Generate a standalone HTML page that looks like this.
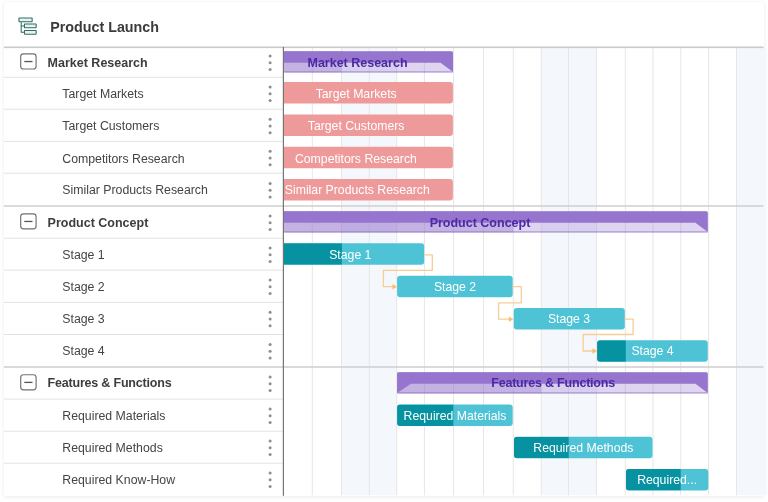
<!DOCTYPE html>
<html><head><meta charset="utf-8"><title>Product Launch</title>
<style>
html,body{margin:0;padding:0;background:#fff;}
body{width:768px;height:502px;position:relative;overflow:hidden;font-family:"Liberation Sans",sans-serif;}
.card{position:absolute;left:3.6px;top:2px;width:760px;height:493.7px;background:#fff;border-radius:1.5px;box-shadow:0 1px 5px rgba(0,0,0,0.07),0 0 1px rgba(0,0,0,0.10);}
.abs{position:absolute;}
.title{position:absolute;left:50.2px;font-size:14.3px;font-weight:bold;color:#3b3b3b;line-height:20px;white-space:nowrap;}
.lbl{position:absolute;font-size:12.3px;color:#444;line-height:16px;white-space:nowrap;left:62.3px;}
.grp{position:absolute;font-size:12.5px;font-weight:bold;color:#3d3d3d;line-height:16px;white-space:nowrap;left:47.6px;}
.bt{position:absolute;font-size:12.25px;color:#fff;line-height:16px;white-space:nowrap;transform:translateX(-50%);}
.st{position:absolute;font-size:12.5px;font-weight:bold;color:#4b2aa3;line-height:16px;white-space:nowrap;transform:translateX(-50%);}
</style></head><body>
<div class="card"></div>

<svg class="abs" style="left:0;top:0" width="768" height="502" viewBox="0 0 768 502">
<rect x="341.5" y="48" width="55.20" height="447.3" fill="#f4f7fb"/>
<rect x="541.25" y="48" width="55.15" height="447.3" fill="#f4f7fb"/>
<rect x="736.5" y="48" width="30.00" height="447.3" fill="#f4f7fb"/>
<rect x="311.80" y="48" width="1" height="447.3" fill="#e6e6e7"/>
<rect x="341.00" y="48" width="1" height="447.3" fill="#e6e6e7"/>
<rect x="368.70" y="48" width="1" height="447.3" fill="#e6e6e7"/>
<rect x="396.20" y="48" width="1" height="447.3" fill="#e6e6e7"/>
<rect x="423.90" y="48" width="1" height="447.3" fill="#e6e6e7"/>
<rect x="453.00" y="48" width="1" height="447.3" fill="#e6e6e7"/>
<rect x="483.00" y="48" width="1" height="447.3" fill="#e6e6e7"/>
<rect x="512.80" y="48" width="1" height="447.3" fill="#e6e6e7"/>
<rect x="540.75" y="48" width="1" height="447.3" fill="#e6e6e7"/>
<rect x="568.00" y="48" width="1" height="447.3" fill="#e6e6e7"/>
<rect x="595.90" y="48" width="1" height="447.3" fill="#e6e6e7"/>
<rect x="624.80" y="48" width="1" height="447.3" fill="#e6e6e7"/>
<rect x="652.50" y="48" width="1" height="447.3" fill="#e6e6e7"/>
<rect x="680.30" y="48" width="1" height="447.3" fill="#e6e6e7"/>
<rect x="708.10" y="48" width="1" height="447.3" fill="#e6e6e7"/>
<rect x="736.00" y="48" width="1" height="447.3" fill="#e6e6e7"/>
<rect x="4" y="76.80" width="279" height="1" fill="#e3e3e3"/>
<rect x="4" y="108.70" width="279" height="1" fill="#e3e3e3"/>
<rect x="4" y="140.90" width="279" height="1" fill="#e3e3e3"/>
<rect x="4" y="172.70" width="279" height="1" fill="#e3e3e3"/>
<rect x="4" y="205.20" width="759.6" height="1.6" fill="#d1d1d1"/>
<rect x="4" y="237.70" width="279" height="1" fill="#e3e3e3"/>
<rect x="4" y="269.60" width="279" height="1" fill="#e3e3e3"/>
<rect x="4" y="301.90" width="279" height="1" fill="#e3e3e3"/>
<rect x="4" y="334.00" width="279" height="1" fill="#e3e3e3"/>
<rect x="4" y="366.20" width="759.6" height="1.6" fill="#d1d1d1"/>
<rect x="4" y="398.60" width="279" height="1" fill="#e3e3e3"/>
<rect x="4" y="430.70" width="279" height="1" fill="#e3e3e3"/>
<rect x="4" y="462.70" width="279" height="1" fill="#e3e3e3"/>
<rect x="4" y="46.5" width="759.6" height="1.6" fill="#c9c9c9"/>
<rect x="282.8" y="47" width="1.15" height="448.8" fill="#707070"/>
<g fill="#e6f3f1" stroke="#2f6b64" stroke-width="1.05" stroke-linejoin="miter">
<rect x="18.95" y="17.95" width="13.2" height="3.8" rx="0.3"/>
<rect x="24.45" y="24.05" width="11.7" height="3.7" rx="0.3"/>
<rect x="24.45" y="30.45" width="11.7" height="3.7" rx="0.3"/>
<path d="M21.2 22.2V32.3H24M21.2 25.9H24" fill="none"/>
</g>
<rect x="20.7" y="53.90" width="15.4" height="15.1" rx="2.8" fill="#fff" stroke="#707070" stroke-width="1.15"/>
<rect x="24.3" y="60.90" width="8.2" height="1.3" fill="#555"/>
<circle cx="270.1" cy="56.05" r="1.5" fill="#8e8e8e"/>
<circle cx="270.1" cy="62.80" r="1.5" fill="#8e8e8e"/>
<circle cx="270.1" cy="69.55" r="1.5" fill="#8e8e8e"/>
<circle cx="270.1" cy="87.10" r="1.5" fill="#8e8e8e"/>
<circle cx="270.1" cy="93.85" r="1.5" fill="#8e8e8e"/>
<circle cx="270.1" cy="100.60" r="1.5" fill="#8e8e8e"/>
<circle cx="270.1" cy="119.15" r="1.5" fill="#8e8e8e"/>
<circle cx="270.1" cy="125.90" r="1.5" fill="#8e8e8e"/>
<circle cx="270.1" cy="132.65" r="1.5" fill="#8e8e8e"/>
<circle cx="270.1" cy="151.15" r="1.5" fill="#8e8e8e"/>
<circle cx="270.1" cy="157.90" r="1.5" fill="#8e8e8e"/>
<circle cx="270.1" cy="164.65" r="1.5" fill="#8e8e8e"/>
<circle cx="270.1" cy="183.45" r="1.5" fill="#8e8e8e"/>
<circle cx="270.1" cy="190.20" r="1.5" fill="#8e8e8e"/>
<circle cx="270.1" cy="196.95" r="1.5" fill="#8e8e8e"/>
<rect x="20.7" y="213.80" width="15.4" height="15.1" rx="2.8" fill="#fff" stroke="#707070" stroke-width="1.15"/>
<rect x="24.3" y="220.80" width="8.2" height="1.3" fill="#555"/>
<circle cx="270.1" cy="215.95" r="1.5" fill="#8e8e8e"/>
<circle cx="270.1" cy="222.70" r="1.5" fill="#8e8e8e"/>
<circle cx="270.1" cy="229.45" r="1.5" fill="#8e8e8e"/>
<circle cx="270.1" cy="248.00" r="1.5" fill="#8e8e8e"/>
<circle cx="270.1" cy="254.75" r="1.5" fill="#8e8e8e"/>
<circle cx="270.1" cy="261.50" r="1.5" fill="#8e8e8e"/>
<circle cx="270.1" cy="280.10" r="1.5" fill="#8e8e8e"/>
<circle cx="270.1" cy="286.85" r="1.5" fill="#8e8e8e"/>
<circle cx="270.1" cy="293.60" r="1.5" fill="#8e8e8e"/>
<circle cx="270.1" cy="312.30" r="1.5" fill="#8e8e8e"/>
<circle cx="270.1" cy="319.05" r="1.5" fill="#8e8e8e"/>
<circle cx="270.1" cy="325.80" r="1.5" fill="#8e8e8e"/>
<circle cx="270.1" cy="344.60" r="1.5" fill="#8e8e8e"/>
<circle cx="270.1" cy="351.35" r="1.5" fill="#8e8e8e"/>
<circle cx="270.1" cy="358.10" r="1.5" fill="#8e8e8e"/>
<rect x="20.7" y="374.75" width="15.4" height="15.1" rx="2.8" fill="#fff" stroke="#707070" stroke-width="1.15"/>
<rect x="24.3" y="381.75" width="8.2" height="1.3" fill="#555"/>
<circle cx="270.1" cy="376.90" r="1.5" fill="#8e8e8e"/>
<circle cx="270.1" cy="383.65" r="1.5" fill="#8e8e8e"/>
<circle cx="270.1" cy="390.40" r="1.5" fill="#8e8e8e"/>
<circle cx="270.1" cy="409.00" r="1.5" fill="#8e8e8e"/>
<circle cx="270.1" cy="415.75" r="1.5" fill="#8e8e8e"/>
<circle cx="270.1" cy="422.50" r="1.5" fill="#8e8e8e"/>
<circle cx="270.1" cy="441.05" r="1.5" fill="#8e8e8e"/>
<circle cx="270.1" cy="447.80" r="1.5" fill="#8e8e8e"/>
<circle cx="270.1" cy="454.55" r="1.5" fill="#8e8e8e"/>
<circle cx="270.1" cy="472.95" r="1.5" fill="#8e8e8e"/>
<circle cx="270.1" cy="479.70" r="1.5" fill="#8e8e8e"/>
<circle cx="270.1" cy="486.45" r="1.5" fill="#8e8e8e"/>
<g transform="translate(284,51.2)"><rect x="0" y="0" width="169" height="21.2" rx="2" fill="#9575cd" fill-opacity="0.3"/><rect x="0" y="0" width="57.5" height="21.2" fill="#9575cd" fill-opacity="0.36"/><rect x="0" y="20.3" width="169" height="0.9" fill="#7e63b8" fill-opacity="0.75"/><path d="M0 0H167.5Q169 0 169 1.5V20.7L156.6 11.6H0Z" fill="#9575cd"/></g>
<g transform="translate(284,211.2)"><rect x="0" y="0" width="423.8" height="21.2" rx="2" fill="#9575cd" fill-opacity="0.3"/><rect x="0" y="0" width="229.3" height="21.2" fill="#9575cd" fill-opacity="0.36"/><rect x="0" y="20.3" width="423.8" height="0.9" fill="#7e63b8" fill-opacity="0.75"/><path d="M0 0H422.3Q423.8 0 423.8 1.5V20.7L411.40000000000003 11.6H0Z" fill="#9575cd"/></g>
<g transform="translate(397.1,372.2)"><rect x="0" y="0" width="310.7" height="21.2" rx="2" fill="#9575cd" fill-opacity="0.3"/><rect x="0" y="0" width="144.15" height="21.2" fill="#9575cd" fill-opacity="0.36"/><rect x="0" y="20.3" width="310.7" height="0.9" fill="#7e63b8" fill-opacity="0.75"/><path d="M1.5 0H309.2Q310.7 0 310.7 1.5V20.7L298.3 11.6H13.9L0 20.7V1.5Q0 0 1.5 0Z" fill="#9575cd"/></g>
<path d="M284 82.1H449.9Q452.9 82.1 452.9 85.1V100.6Q452.9 103.6 449.9 103.6H284Z" fill="#ef9a9a"/>
<path d="M284 114.4H449.9Q452.9 114.4 452.9 117.4V132.9Q452.9 135.9 449.9 135.9H284Z" fill="#ef9a9a"/>
<path d="M284 146.8H449.9Q452.9 146.8 452.9 149.8V165.3Q452.9 168.3 449.9 168.3H284Z" fill="#ef9a9a"/>
<path d="M284 179.1H449.9Q452.9 179.1 452.9 182.1V197.6Q452.9 200.6 449.9 200.6H284Z" fill="#ef9a9a"/>
<clipPath id="c1"><path d="M284 243.2H421.2Q424.2 243.2 424.2 246.2V261.7Q424.2 264.7 421.2 264.7H284Z"/></clipPath>
<path d="M284 243.2H421.2Q424.2 243.2 424.2 246.2V261.7Q424.2 264.7 421.2 264.7H284Z" fill="#4fc3d6"/><rect clip-path="url(#c1)" x="284" y="243.2" width="57.90" height="21.5" fill="#0792a1"/>
<path d="M400.1 275.7H509.70000000000005Q512.7 275.7 512.7 278.7V294.2Q512.7 297.2 509.70000000000005 297.2H400.1Q397.1 297.2 397.1 294.2V278.7Q397.1 275.7 400.1 275.7Z" fill="#4fc3d6"/>
<path d="M516.75 308.1H621.8Q624.8 308.1 624.8 311.1V326.6Q624.8 329.6 621.8 329.6H516.75Q513.75 329.6 513.75 326.6V311.1Q513.75 308.1 516.75 308.1Z" fill="#4fc3d6"/>
<clipPath id="c2"><path d="M600.1 340.3H704.8Q707.8 340.3 707.8 343.3V358.8Q707.8 361.8 704.8 361.8H600.1Q597.1 361.8 597.1 358.8V343.3Q597.1 340.3 600.1 340.3Z"/></clipPath>
<path d="M600.1 340.3H704.8Q707.8 340.3 707.8 343.3V358.8Q707.8 361.8 704.8 361.8H600.1Q597.1 361.8 597.1 358.8V343.3Q597.1 340.3 600.1 340.3Z" fill="#4fc3d6"/><rect clip-path="url(#c2)" x="597.1" y="340.3" width="28.70" height="21.5" fill="#0792a1"/>
<clipPath id="c3"><path d="M400.1 404.5H509.70000000000005Q512.7 404.5 512.7 407.5V423.0Q512.7 426.0 509.70000000000005 426.0H400.1Q397.1 426.0 397.1 423.0V407.5Q397.1 404.5 400.1 404.5Z"/></clipPath>
<path d="M400.1 404.5H509.70000000000005Q512.7 404.5 512.7 407.5V423.0Q512.7 426.0 509.70000000000005 426.0H400.1Q397.1 426.0 397.1 423.0V407.5Q397.1 404.5 400.1 404.5Z" fill="#4fc3d6"/><rect clip-path="url(#c3)" x="397.1" y="404.5" width="56.20" height="21.5" fill="#0792a1"/>
<clipPath id="c4"><path d="M517 436.8H649.5Q652.5 436.8 652.5 439.8V455.3Q652.5 458.3 649.5 458.3H517Q514 458.3 514 455.3V439.8Q514 436.8 517 436.8Z"/></clipPath>
<path d="M517 436.8H649.5Q652.5 436.8 652.5 439.8V455.3Q652.5 458.3 649.5 458.3H517Q514 458.3 514 455.3V439.8Q514 436.8 517 436.8Z" fill="#4fc3d6"/><rect clip-path="url(#c4)" x="514" y="436.8" width="54.70" height="21.5" fill="#0792a1"/>
<clipPath id="c5"><path d="M629 468.9H705.3Q708.3 468.9 708.3 471.9V487.4Q708.3 490.4 705.3 490.4H629Q626 490.4 626 487.4V471.9Q626 468.9 629 468.9Z"/></clipPath>
<path d="M629 468.9H705.3Q708.3 468.9 708.3 471.9V487.4Q708.3 490.4 705.3 490.4H629Q626 490.4 626 487.4V471.9Q626 468.9 629 468.9Z" fill="#4fc3d6"/><rect clip-path="url(#c5)" x="626" y="468.9" width="54.70" height="21.5" fill="#0792a1"/>
<path d="M424.2 254.8H432.3V270.4H383.4V286.7H394.1" fill="none" stroke="#f8cd95" stroke-width="1.3" stroke-linejoin="round"/><path d="M396.8 286.7L392.5 284.0V289.4Z" fill="#f6bd6a"/>
<path d="M512.7 286.7H521.3V302.8H498.6V319.2H510.5" fill="none" stroke="#f8cd95" stroke-width="1.3" stroke-linejoin="round"/><path d="M513.2 319.2L508.9 316.5V321.9Z" fill="#f6bd6a"/>
<path d="M624.8 319.2H633.1V334.5H583.2V351H594.1" fill="none" stroke="#f8cd95" stroke-width="1.3" stroke-linejoin="round"/><path d="M596.8000000000001 351L592.5 348.3V353.7Z" fill="#f6bd6a"/>
</svg>
<div class="title" style="top:17.05px">Product Launch</div>
<div class="grp" style="top:54.67px">Market Research</div>
<div class="lbl" style="top:85.74px">Target Markets</div>
<div class="lbl" style="top:117.74px">Target Customers</div>
<div class="lbl" style="top:150.74px">Competitors Research</div>
<div class="lbl" style="top:181.74px">Similar Products Research</div>
<div class="grp" style="top:214.67px">Product Concept</div>
<div class="lbl" style="top:246.74px">Stage 1</div>
<div class="lbl" style="top:278.74px">Stage 2</div>
<div class="lbl" style="top:310.74px">Stage 3</div>
<div class="lbl" style="top:342.74px">Stage 4</div>
<div class="grp" style="top:375.17px"><span style="letter-spacing:-0.2px">Features &amp; Functions</span></div>
<div class="lbl" style="top:407.74px">Required Materials</div>
<div class="lbl" style="top:439.74px">Required Methods</div>
<div class="lbl" style="top:471.74px">Required Know-How</div>
<div class="st" style="left:357.5px;top:54.67px">Market Research</div>
<div class="st" style="left:480px;top:214.67px">Product Concept</div>
<div class="st" style="left:553.1px;top:375.17px"><span style="letter-spacing:-0.2px">Features &amp; Functions</span></div>
<div class="bt" style="left:356.20px;top:85.74px">Target Markets</div>
<div class="bt" style="left:356.10px;top:117.74px">Target Customers</div>
<div class="bt" style="left:355.90px;top:150.74px">Competitors Research</div>
<div class="bt" style="left:357.30px;top:182.14px">Similar Products Research</div>
<div class="bt" style="left:350.30px;top:246.54px">Stage 1</div>
<div class="bt" style="left:455.00px;top:278.74px">Stage 2</div>
<div class="bt" style="left:569.00px;top:311.04px">Stage 3</div>
<div class="bt" style="left:652.50px;top:343.34px">Stage 4</div>
<div class="bt" style="left:455.00px;top:407.74px">Required Materials</div>
<div class="bt" style="left:583.40px;top:439.74px">Required Methods</div>
<div class="bt" style="left:667.10px;top:471.74px">Required...</div>
</body></html>
